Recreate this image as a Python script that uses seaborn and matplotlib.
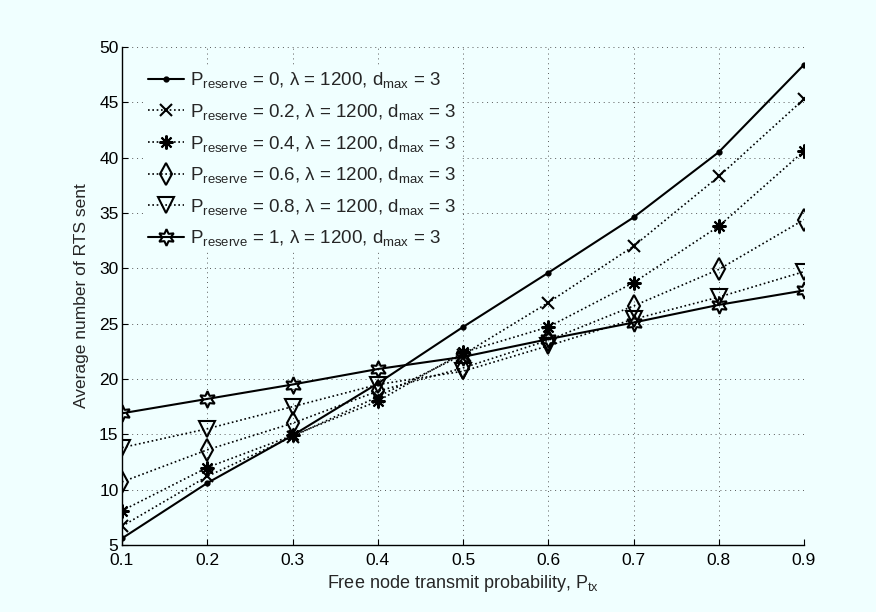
import numpy as np
import pandas as pd
import matplotlib
matplotlib.use("Agg")
import matplotlib.pyplot as plt
import seaborn as sns

# ---- data ----
p_tx = [0.1, 0.2, 0.3, 0.4, 0.5, 0.6, 0.7, 0.8, 0.9]
rts_p0 = [5.6, 10.6, 14.9, 19.6, 24.7, 29.6, 34.6, 40.5, 48.4]
rts_p02 = [6.7, 11.2, 14.8, 18.4, 22.2, 26.9, 32.0, 38.3, 45.3]
rts_p04 = [8.1, 12.0, 14.9, 18.0, 22.4, 24.7, 28.7, 33.8, 40.6]
rts_p06 = [10.7, 13.6, 16.0, 18.9, 21.0, 23.5, 26.6, 29.9, 34.4]
rts_p08 = [13.8, 15.5, 17.5, 19.5, 20.7, 23.0, 25.4, 27.4, 29.7]
rts_p1 = [16.9, 18.2, 19.5, 20.9, 22.0, 23.6, 25.1, 26.7, 28.0]
reserve_labels = ["0", "0.2", "0.4", "0.6", "0.8", "1"]
x_ticks = [0.1, 0.2, 0.3, 0.4, 0.5, 0.6, 0.7, 0.8, 0.9]
y_ticks = [5, 10, 15, 20, 25, 30, 35, 40, 45, 50]

series = [rts_p0, rts_p02, rts_p04, rts_p06, rts_p08, rts_p1]

BG = "#F0FFFF"
sns.set_theme(style="ticks")
plt.rcParams["font.family"] = ["Liberation Sans", "DejaVu Sans"]
plt.rcParams["mathtext.fontset"] = "custom"
plt.rcParams["mathtext.rm"] = "Liberation Sans"
plt.rcParams["mathtext.it"] = "Liberation Sans"
plt.rcParams["mathtext.default"] = "regular"

fig = plt.figure(figsize=(8.76, 6.12), dpi=100, facecolor=BG)
ax = fig.add_axes([122 / 876, 1 - 545 / 612, 682 / 876, 498 / 612])
ax.set_facecolor(BG)

styles = [
    dict(linestyle="-", marker=".", markersize=6, linewidth=1.5),
    dict(linestyle=(0, (1, 1.6)), marker="x", markersize=9, linewidth=1.2),
    dict(linestyle=(0, (1, 1.6)), marker=(8, 2, 0), markersize=10, linewidth=1.2),
    dict(linestyle=(0, (1, 1.6)), marker="d", markersize=11, linewidth=1.2, fillstyle="none"),
    dict(linestyle=(0, (1, 1.6)), marker="v", markersize=11, linewidth=1.2, fillstyle="none"),
    dict(linestyle="-", marker=(6, 1, 0), markersize=12, linewidth=1.5, fillstyle="none"),
]

for vals, lab, st in zip(series, reserve_labels, styles):
    df = pd.DataFrame({"p": p_tx, "rts": vals})
    label = r"$P_{reserve}$ = " + lab + r", $\lambda$ = 1200, $d_{max}$ = 3"
    sns.lineplot(data=df, x="p", y="rts", ax=ax, color="black",
                 markeredgecolor="black", markeredgewidth=1.5,
                 label=label, **st)

ax.set_xlim(0.1, 0.9)
ax.set_ylim(5, 50)
ax.set_xticks(x_ticks)
ax.set_xticklabels([f"{v:g}" for v in x_ticks])
ax.set_yticks(y_ticks)
ax.grid(True, color="0.35", linestyle=(0, (1, 4)), linewidth=0.7)
ax.set_axisbelow(True)
for s in ["top", "right"]:
    ax.spines[s].set_visible(False)
for s in ["left", "bottom"]:
    ax.spines[s].set_color("black")
    ax.spines[s].set_linewidth(1.0)
ax.tick_params(direction="in", length=4, width=0.8, labelsize=12.5, colors="black")
ax.tick_params(axis="x", pad=6)
ax.tick_params(axis="y", pad=2.5)

ax.set_xlabel(r"Free node transmit probability, $P_{tx}$", fontsize=13, labelpad=3)
ax.set_ylabel("Average number of RTS sent", fontsize=12.5, labelpad=7)

leg = ax.legend(loc="upper left", bbox_to_anchor=(0.035, 0.957), fontsize=13.5,
                frameon=True, facecolor=BG, edgecolor=BG, framealpha=1.0,
                borderpad=0.1, handlelength=1.95, handletextpad=0.3,
                labelspacing=0.62, fancybox=False, borderaxespad=0)

fig.savefig("out.png", dpi=100, facecolor=BG)
